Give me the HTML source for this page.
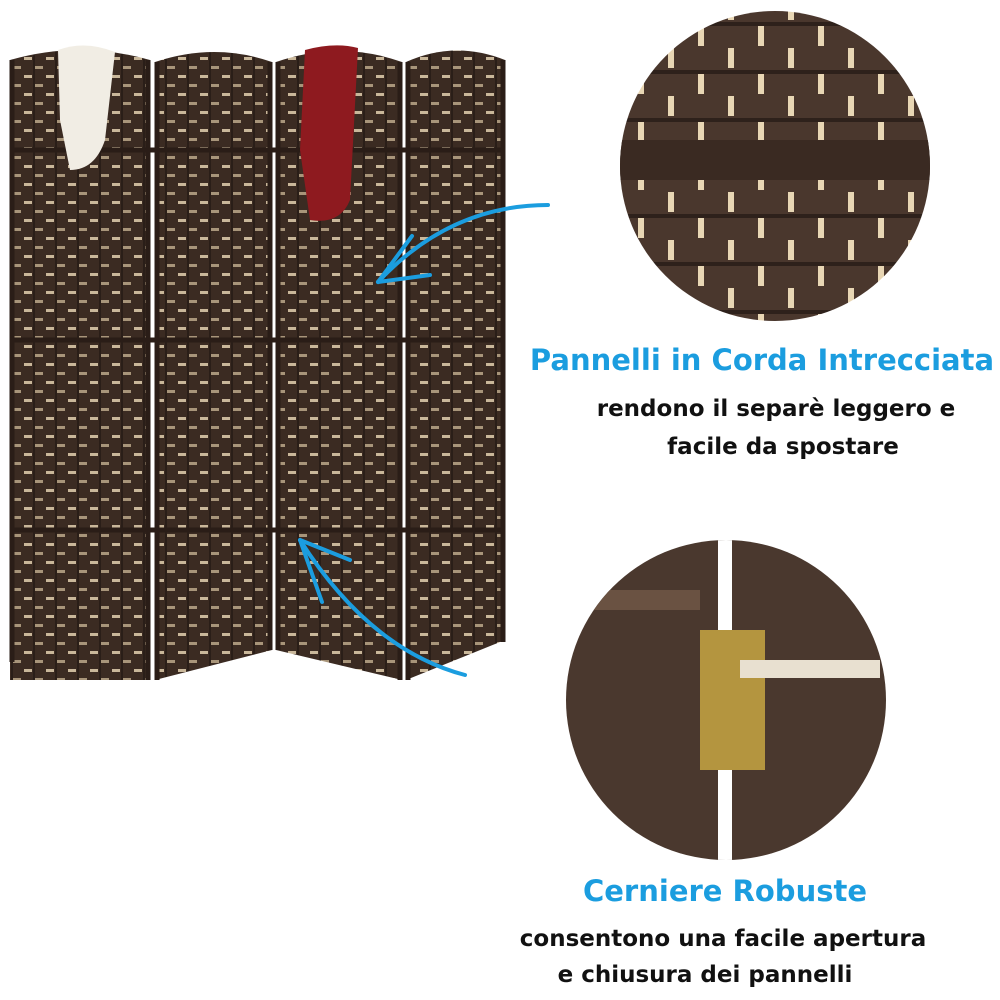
<!DOCTYPE html>
<html><head><meta charset="utf-8"><style>
html,body{margin:0;padding:0;background:#fff;width:1000px;height:1000px;overflow:hidden}
.t{position:absolute;font-family:"DejaVu Sans","Liberation Sans",sans-serif;font-weight:bold;white-space:nowrap;transform:translateX(-50%)}
.b{color:#1b9ddf;font-size:29px}
.k{color:#111;font-size:23px}
</style></head><body>
<svg width="1000" height="1000" style="position:absolute;left:0;top:0">
<defs>
<pattern id="w" width="22" height="18" patternUnits="userSpaceOnUse">
<rect width="22" height="18" fill="#3b2b22"/>
<rect x="2" y="3" width="8" height="3" fill="#c9b79a"/>
<rect x="13" y="12" width="8" height="3" fill="#a8957a"/>
<rect x="11" y="0" width="2" height="18" fill="#2a1e18"/>
</pattern>
<pattern id="w2" width="60" height="48" patternUnits="userSpaceOnUse">
<rect width="60" height="48" fill="#4a372d"/>
<rect x="8" y="0" width="6" height="20" fill="#e8d6b4"/>
<rect x="38" y="26" width="6" height="20" fill="#e8d6b4"/>
<rect x="0" y="22" width="60" height="4" fill="#2e211b"/>
</pattern>
<clipPath id="c1"><circle cx="775" cy="166" r="155"/></clipPath>
<clipPath id="c2"><circle cx="726" cy="700" r="160"/></clipPath>
</defs>
<!-- panels -->
<path d="M10 60 Q80 40 150 60 L150 680 L10 680 Z" fill="url(#w)"/>
<path d="M155 62 Q215 42 272 62 L272 650 L155 680 Z" fill="url(#w)"/>
<path d="M276 62 Q340 40 402 62 L402 680 L276 650 Z" fill="url(#w)"/>
<path d="M406 62 Q455 40 505 60 L505 640 L406 680 Z" fill="url(#w)"/>
<g stroke="#2a1d17" stroke-width="5">
<line x1="12" y1="60" x2="12" y2="662"/><line x1="148" y1="60" x2="148" y2="680"/>
<line x1="157" y1="62" x2="157" y2="680"/><line x1="270" y1="62" x2="270" y2="650"/>
<line x1="278" y1="62" x2="278" y2="650"/><line x1="400" y1="62" x2="400" y2="680"/>
<line x1="408" y1="62" x2="408" y2="680"/><line x1="503" y1="60" x2="503" y2="642"/>
<line x1="10" y1="340" x2="505" y2="340"/><line x1="10" y1="150" x2="505" y2="150"/><line x1="10" y1="530" x2="505" y2="530"/>
</g>
<path d="M58 50 Q85 40 115 52 L105 140 Q95 170 70 170 L60 120 Z" fill="#f1ede4"/>
<path d="M305 50 Q335 42 358 48 L350 200 Q340 225 310 220 L300 150 Z" fill="#8e1a1f"/>
<!-- circles -->
<g clip-path="url(#c1)"><rect x="600" y="0" width="350" height="330" fill="url(#w2)"/>
<rect x="600" y="140" width="350" height="40" fill="#3a2a22"/></g>
<g clip-path="url(#c2)"><rect x="560" y="530" width="340" height="340" fill="#4a382e"/>
<rect x="718" y="530" width="14" height="340" fill="#fff"/>
<rect x="700" y="630" width="65" height="140" fill="#b4953f"/>
<rect x="580" y="590" width="120" height="20" fill="#6a5242"/><rect x="740" y="660" width="140" height="18" fill="#e8e0d0"/></g>
<!-- arrows -->
<g stroke="#1b9ddf" stroke-width="4" fill="none" stroke-linecap="round">
<path d="M548 205 Q450 205 378 282"/><path d="M378 282 L430 275"/><path d="M378 282 L412 236"/>
<path d="M465 675 Q370 650 300 540"/><path d="M300 540 L350 560"/><path d="M300 540 L322 602"/>
</g>
</svg>
<div class="t b" style="left:762px;top:343px">Pannelli in Corda Intrecciata</div>
<div class="t k" style="left:776px;top:396px">rendono il separè leggero e</div>
<div class="t k" style="left:783px;top:434px">facile da spostare</div>
<div class="t b" style="left:725px;top:874px">Cerniere Robuste</div>
<div class="t k" style="left:723px;top:926px">consentono una facile apertura</div>
<div class="t k" style="left:705px;top:962px">e chiusura dei pannelli</div>
</body></html>
